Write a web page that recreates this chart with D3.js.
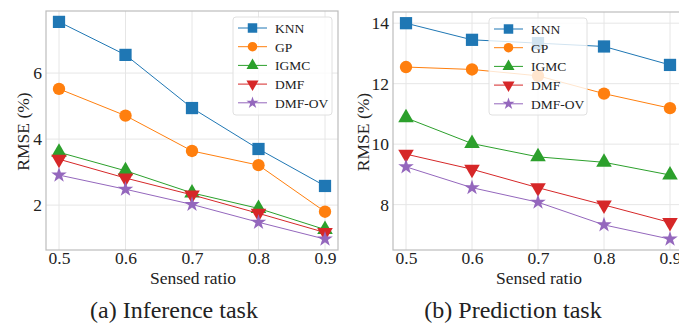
<!DOCTYPE html>
<html>
<head>
<meta charset="utf-8">
<script src="https://cdn.jsdelivr.net/npm/d3@7"></script>
<style>
  body { margin: 0; background: #fff; }
  svg { display: block; }
  svg text { font-family: "Liberation Serif", "Times New Roman", serif; }
</style>
</head>
<body>
<svg id="chart" width="679" height="323"></svg>
<script>
const ratios = [0.5, 0.6, 0.7, 0.8, 0.9];
const methods = ["KNN", "GP", "IGMC", "DMF", "DMF-OV"];
const colors = ["#1f77b4", "#ff7f0e", "#2ca02c", "#d62728", "#9467bd"];

// (a) inference task
const inferKNN = [7.55, 6.55, 4.94, 3.70, 2.58];
const inferGP = [5.52, 4.71, 3.64, 3.21, 1.80];
const inferIGMC = [3.60, 3.04, 2.37, 1.90, 1.26];
const inferDMF = [3.39, 2.82, 2.31, 1.75, 1.17];
const inferDMFOV = [2.91, 2.48, 2.02, 1.48, 0.97];

// (b) prediction task
const predKNN = [14.0, 13.45, 13.34, 13.23, 12.62];
const predGP = [12.55, 12.47, 12.26, 11.67, 11.19];
const predIGMC = [10.87, 10.02, 9.58, 9.40, 8.98];
const predDMF = [9.67, 9.17, 8.56, 7.99, 7.41];
const predDMFOV = [9.25, 8.56, 8.08, 7.33, 6.86];

const inferTicks = [2, 4, 6];
const predTicks = [8, 10, 12, 14];
const xTicks = [0.5, 0.6, 0.7, 0.8, 0.9];

const svg = d3.select("#chart");
const font = "Liberation Serif";

const symbols = [
    { type: d3.symbolSquare, size: 150, rot: 0 },
    { type: d3.symbolCircle, size: 120, rot: 0 },
    { type: d3.symbolTriangle, size: 105, rot: 0 },
    { type: d3.symbolTriangle, size: 105, rot: 180 },
    { type: d3.symbolStar, size: 75, rot: 0 }
];

function drawPanel(opts) {
    const { left, right, top, bottom, xDomain, yDomain, yTicks, series, legend, caption, captionX, titleOffset } = opts;

    const x = d3.scaleLinear().domain(xDomain).range([left, right]);
    const y = d3.scaleLinear().domain(yDomain).range([bottom, top]);

    const g = svg.append("g");

    // grid
    g.selectAll(".vgrid").data(xTicks).enter().append("line")
        .attr("x1", d => x(d)).attr("x2", d => x(d))
        .attr("y1", top).attr("y2", bottom)
        .attr("stroke", "#e6e6e6").attr("stroke-width", 1);
    g.selectAll(".hgrid").data(yTicks).enter().append("line")
        .attr("x1", left).attr("x2", right)
        .attr("y1", d => y(d)).attr("y2", d => y(d))
        .attr("stroke", "#e6e6e6").attr("stroke-width", 1);

    // frame
    g.append("rect")
        .attr("x", left).attr("y", top)
        .attr("width", right - left).attr("height", bottom - top)
        .attr("fill", "none").attr("stroke", "#bdbdbd").attr("stroke-width", 1.2);

    // axes
    const xAxis = d3.axisBottom(x).tickValues(xTicks).tickSize(0).tickPadding(2).tickFormat(d3.format(".1f"));
    const yAxis = d3.axisLeft(y).tickValues(yTicks).tickSize(0).tickPadding(4);

    const gx = g.append("g").attr("transform", `translate(0, ${bottom})`).call(xAxis);
    const gy = g.append("g").attr("transform", `translate(${left}, 0)`).call(yAxis);
    gx.select(".domain").remove();
    gy.select(".domain").remove();
    gx.attr("font-family", font).attr("font-size", 17.5);
    gy.attr("font-family", font).attr("font-size", 17.5);
    g.selectAll(".tick text").attr("fill", "#222");

    // axis titles
    g.append("text")
        .attr("x", (x(0.5) + x(0.9)) / 2 + 1)
        .attr("y", bottom + 34)
        .attr("text-anchor", "middle")
        .attr("font-size", 17.5).attr("fill", "#222")
        .text("Sensed ratio");
    g.append("text")
        .attr("transform", `translate(${left - titleOffset}, ${(top + bottom) / 2 + 1}) rotate(-90)`)
        .attr("text-anchor", "middle")
        .attr("font-size", 17.5).attr("fill", "#222")
        .text("RMSE (%)");

    // caption
    g.append("text")
        .attr("x", captionX).attr("y", 318)
        .attr("text-anchor", "middle")
        .attr("font-size", 24).attr("fill", "#222")
        .text(caption);

    const line = d3.line().x((d, i) => x(ratios[i])).y(d => y(d));

    series.forEach((vals, k) => {
        g.append("path")
            .attr("d", line(vals))
            .attr("fill", "none")
            .attr("stroke", colors[k])
            .attr("stroke-width", 1);
        const sym = symbols[k];
        g.selectAll(".m" + k).data(vals).enter().append("path")
            .attr("d", d3.symbol().type(sym.type).size(sym.size))
            .attr("transform", (d, i) => `translate(${x(ratios[i])}, ${y(d)}) rotate(${sym.rot})`)
            .attr("fill", colors[k]);
    });

    // legend
    const lg = g.append("g");
    lg.append("rect")
        .attr("x", legend.x).attr("y", legend.y)
        .attr("width", legend.w).attr("height", legend.h)
        .attr("rx", 3)
        .attr("fill", "#fff").attr("fill-opacity", 0.8)
        .attr("stroke", "#e0e0e0").attr("stroke-width", 1);
    methods.forEach((name, k) => {
        const cy = legend.y + 11 + k * 18.7;
        const lx = legend.x + 5;
        lg.append("line")
            .attr("x1", lx).attr("x2", lx + 29)
            .attr("y1", cy).attr("y2", cy)
            .attr("stroke", colors[k]).attr("stroke-width", 1);
        const sym = symbols[k];
        lg.append("path")
            .attr("d", d3.symbol().type(sym.type).size(sym.size * 0.6))
            .attr("transform", `translate(${lx + 14.5}, ${cy}) rotate(${sym.rot})`)
            .attr("fill", colors[k]);
        lg.append("text")
            .attr("x", lx + 37).attr("y", cy + 5)
            .attr("font-size", 13.5).attr("fill", "#222")
            .text(name);
    });
}

drawPanel({
    left: 46, right: 338, top: 11, bottom: 250,
    xDomain: [0.5 - 13 / 665, 0.9 + 13 / 665],
    yDomain: [0.64, 7.88],
    yTicks: inferTicks,
    series: [inferKNN, inferGP, inferIGMC, inferDMF, inferDMFOV],
    legend: { x: 233, y: 17, w: 99, h: 98 },
    caption: "(a) Inference task",
    captionX: 174,
    titleOffset: 17
});

drawPanel({
    left: 393, right: 683, top: 12, bottom: 250,
    xDomain: [0.5 - 13 / 660, 0.9 + 13 / 660],
    yDomain: [6.5, 14.37],
    yTicks: predTicks,
    series: [predKNN, predGP, predIGMC, predDMF, predDMFOV],
    legend: { x: 489, y: 18, w: 98, h: 97 },
    caption: "(b) Prediction task",
    captionX: 513,
    titleOffset: 24
});
</script>
</body>
</html>
